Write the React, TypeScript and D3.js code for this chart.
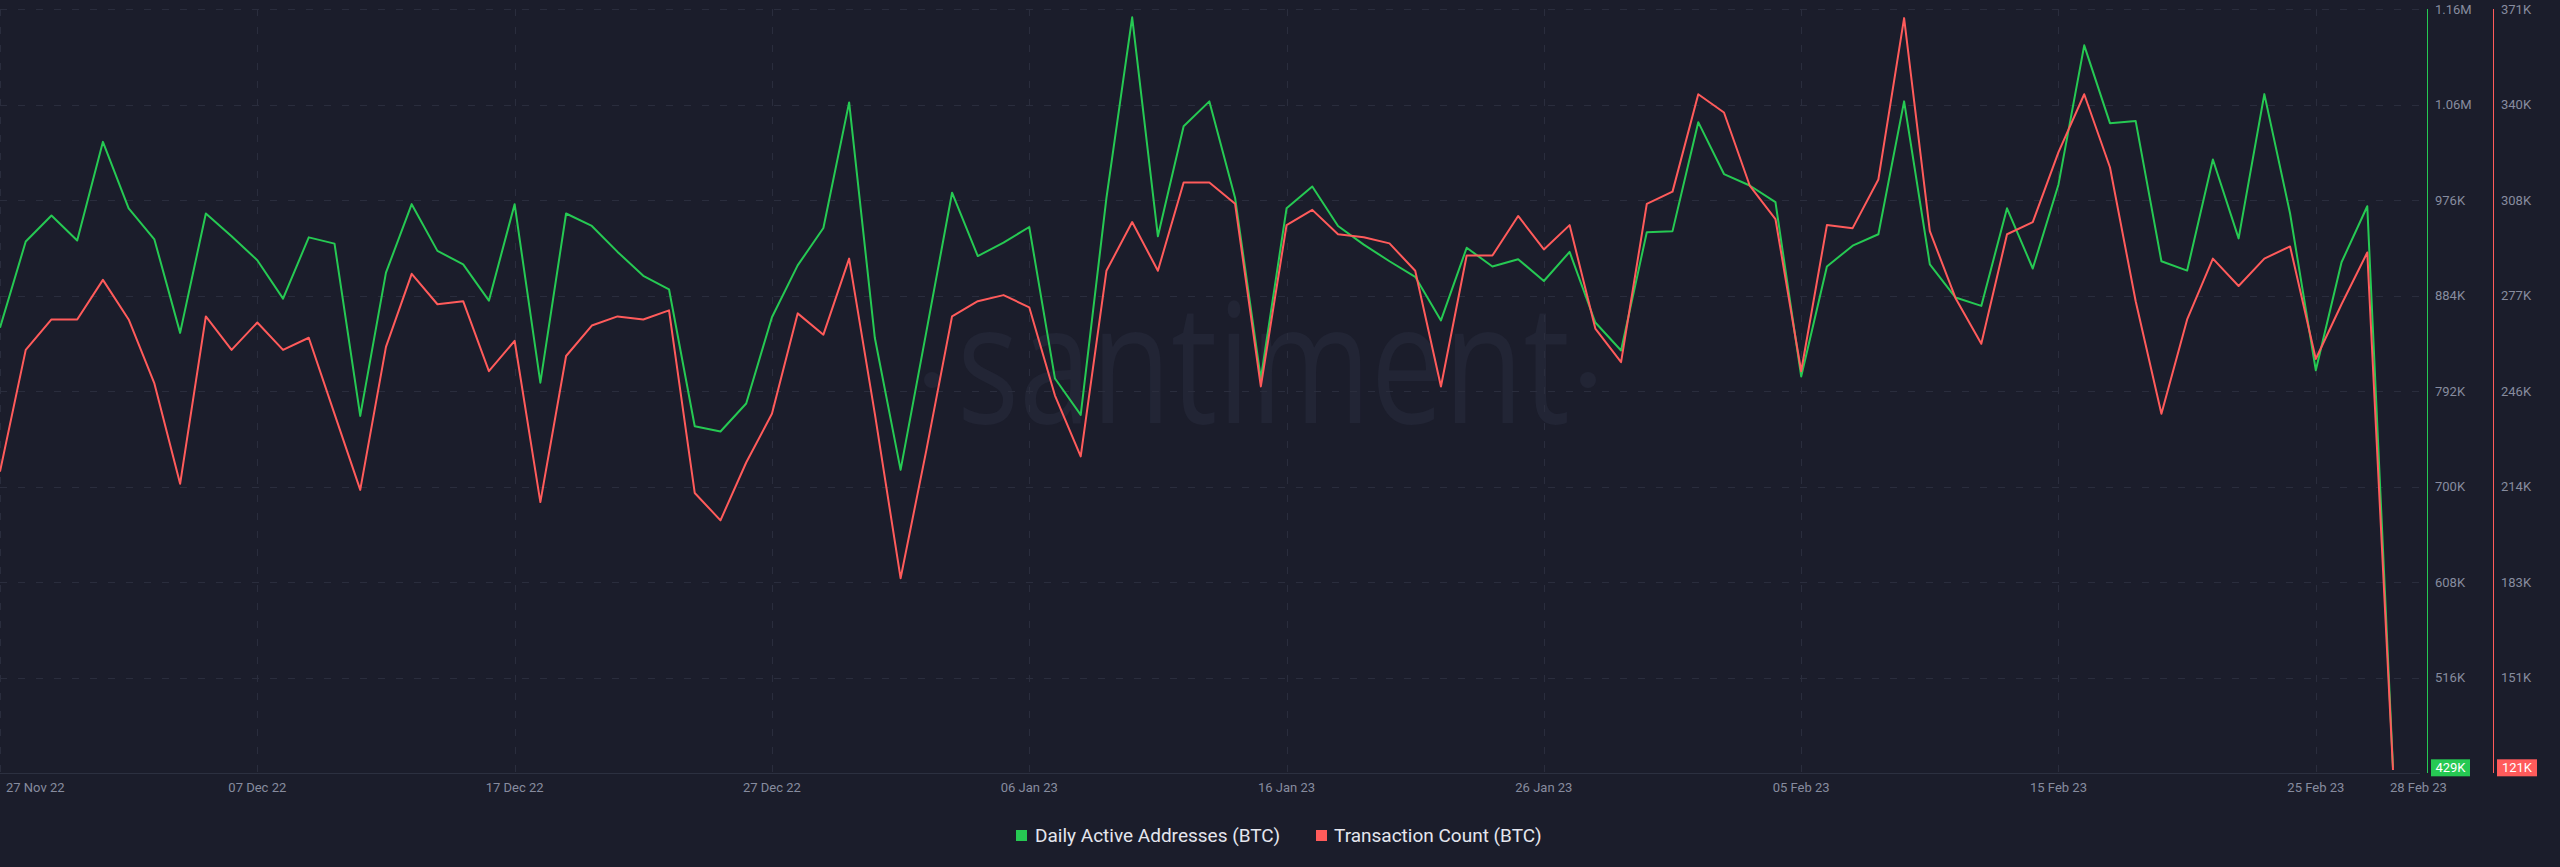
import { useMemo } from 'react'
import { line, scaleLinear, scaleUtc, utcDay, utcFormat } from 'd3'

// Daily Active Addresses (BTC), thousands, 27 Nov 22 .. 28 Feb 23
const activeAddresses = [
  853, 936, 961, 937, 1032, 968, 938, 848, 963, 941,
  918, 881, 940, 934, 768, 906, 972, 927, 914, 879,
  972, 800, 963, 951, 926, 903, 890, 758, 753, 780,
  863, 913, 949, 1070, 843, 716, 849, 983, 922, 935,
  950, 804, 769, 978, 1152, 941, 1047, 1071, 978, 804,
  968, 989, 951, 933, 917, 902, 860, 930, 912, 919,
  898, 926, 858, 831, 945, 946, 1051, 1001, 990, 974,
  806, 912, 932, 943, 1071, 914, 882, 874, 968, 910,
  991, 1125, 1050, 1052, 917, 908, 1015, 939, 1078, 963,
  812, 916, 970, 429,
]

// Transaction Count (BTC), thousands
const transactionCount = [
  219, 259, 269, 269, 282, 269, 248, 215, 270, 259,
  268, 259, 263, 238, 213, 260, 284, 274, 275, 252,
  262, 209, 257, 267, 270, 269, 272, 212, 203, 222,
  238, 271, 264, 289, 238, 184, 226, 270, 275, 277,
  273, 244, 224, 285, 301, 285, 314, 314, 307, 247,
  300, 305, 297, 296, 294, 285, 247, 290, 290, 303,
  292, 300, 266, 255, 307, 311, 343, 337, 313, 302,
  252, 300, 299, 315, 368, 298, 276, 261, 297, 301,
  324, 343, 319, 275, 238, 269, 289, 280, 289, 293,
  256, 274, 291, 121,
]

const startDay = new Date(Date.UTC(2022, 10, 27))
const endDay = new Date(Date.UTC(2023, 1, 28))

const xTickDates = [
  '2022-11-27', '2022-12-07', '2022-12-17', '2022-12-27', '2023-01-06',
  '2023-01-16', '2023-01-26', '2023-02-05', '2023-02-15', '2023-02-25',
]
const lastTickDate = '2023-02-28'

const greenTickLabels = ['516K', '608K', '700K', '792K', '884K', '976K', '1.06M', '1.16M']
const redTickLabels = ['151K', '183K', '214K', '246K', '277K', '308K', '340K', '371K']
const greenDomain = [424, 1160]
const redDomain = [120, 371]

const legendItems = ['Daily Active Addresses (BTC)', 'Transaction Count (BTC)']

const WIDTH = 2560
const HEIGHT = 867
const BG = '#1b1d2b'
const GREEN = '#26c953'
const RED = '#ff5b5b'
const GRID = '#2a2d3d'
const TICK_TEXT = '#878c9f'
const FONT = 'Roboto, "Liberation Sans", Arial, sans-serif'

export default function App() {
  const top = 9
  const bottom = 773
  const plotRight = 2393
  const gridRight = 2420
  const greenAxisX = 2427
  const redAxisX = 2493

  const dates = useMemo(() => utcDay.range(startDay, utcDay.offset(endDay, 1)), [])

  const x = scaleUtc().domain([startDay, endDay]).range([0, plotRight])
  const yGreen = scaleLinear().domain(greenDomain).range([bottom, top])
  const yRed = scaleLinear().domain(redDomain).range([bottom, top])

  const greenStep = (greenDomain[1] - greenDomain[0]) / greenTickLabels.length
  const redStep = (redDomain[1] - redDomain[0]) / redTickLabels.length
  const greenTicks = greenTickLabels.map((_, i) => greenDomain[0] + greenStep * (i + 1))
  const redTicks = redTickLabels.map((_, i) => redDomain[0] + redStep * (i + 1))

  const greenPath = line<number>()
    .x((_, i) => x(dates[i]))
    .y(d => yGreen(d))(activeAddresses)
  const redPath = line<number>()
    .x((_, i) => x(dates[i]))
    .y(d => yRed(d))(transactionCount)

  const fmt = utcFormat('%d %b %y')
  const parse = (s: string) => new Date(s + 'T00:00:00Z')

  const lastGreen = activeAddresses[activeAddresses.length - 1]
  const lastRed = transactionCount[transactionCount.length - 1]
  const badgeY = Math.min(yGreen(lastGreen), yRed(lastRed))

  return (
    <div style={{ position: 'absolute', left: 0, top: 0 }}>
      <svg width={WIDTH} height={HEIGHT} style={{ display: 'block', fontFamily: FONT }}>
        <rect width={WIDTH} height={HEIGHT} fill={BG} />

        {/* watermark */}
        <g fill="#222535">
          <circle cx={932} cy={380} r={8} />
          <text
            x={957}
            y={423}
            fontSize={166}
            fontFamily='"Open Sans", sans-serif'
            textLength={613}
            lengthAdjust="spacingAndGlyphs"
          >
            santiment
          </text>
          <circle cx={1588} cy={380} r={8} />
        </g>

        {/* grid */}
        {greenTicks.map((t, i) => (
          <line
            key={'h' + i}
            x1={0}
            x2={gridRight}
            y1={Math.round(yGreen(t)) + 0.5}
            y2={Math.round(yGreen(t)) + 0.5}
            stroke={GRID}
            strokeDasharray="7 11"
          />
        ))}
        {xTickDates.map(d => (
          <line
            key={'v' + d}
            x1={Math.round(x(parse(d))) + 0.5}
            x2={Math.round(x(parse(d))) + 0.5}
            y1={top}
            y2={bottom}
            stroke={GRID}
            strokeDasharray="7 11"
          />
        ))}
        <line x1={0} x2={gridRight} y1={bottom + 0.5} y2={bottom + 0.5} stroke="#2c3040" />

        {/* x axis labels */}
        {xTickDates.map((d, i) => (
          <text
            key={'xl' + d}
            x={i === 0 ? 6 : x(parse(d))}
            y={792}
            fontSize={13}
            fill={TICK_TEXT}
            textAnchor={i === 0 ? 'start' : 'middle'}
          >
            {fmt(parse(d))}
          </text>
        ))}
        <text x={x(parse(lastTickDate)) - 3} y={792} fontSize={13} fill={TICK_TEXT}>
          {fmt(parse(lastTickDate))}
        </text>

        {/* series */}
        <path d={greenPath ?? ''} fill="none" stroke={GREEN} strokeWidth={2} strokeLinejoin="round" />
        <path d={redPath ?? ''} fill="none" stroke={RED} strokeWidth={2} strokeLinejoin="round" />

        {/* right axes */}
        <line x1={greenAxisX + 0.5} x2={greenAxisX + 0.5} y1={top} y2={bottom} stroke={GREEN} />
        <line x1={redAxisX + 0.5} x2={redAxisX + 0.5} y1={top} y2={bottom} stroke={RED} />
        {greenTicks.map((t, i) => (
          <text
            key={'gt' + i}
            x={greenAxisX + 8}
            y={yGreen(t)}
            dy="0.35em"
            fontSize={13}
            fill={TICK_TEXT}
          >
            {greenTickLabels[i]}
          </text>
        ))}
        {redTicks.map((t, i) => (
          <text
            key={'rt' + i}
            x={redAxisX + 8}
            y={yRed(t)}
            dy="0.35em"
            fontSize={13}
            fill={TICK_TEXT}
          >
            {redTickLabels[i]}
          </text>
        ))}

        {/* last value badges */}
        <rect x={greenAxisX + 4} y={badgeY - 8.5} width={39} height={17} fill={GREEN} />
        <text
          x={greenAxisX + 23.5}
          y={badgeY}
          dy="0.35em"
          fontSize={13}
          fill="#ffffff"
          textAnchor="middle"
        >
          {Math.round(lastGreen) + 'K'}
        </text>
        <rect x={redAxisX + 4} y={badgeY - 8.5} width={40} height={17} fill={RED} />
        <text
          x={redAxisX + 24}
          y={badgeY}
          dy="0.35em"
          fontSize={13}
          fill="#ffffff"
          textAnchor="middle"
        >
          {Math.round(lastRed) + 'K'}
        </text>

        {/* legend */}
        <rect x={1016} y={830} width={11} height={11} fill={GREEN} />
        <text x={1035} y={842} fontSize={19} fill="#e4e6ee">
          {legendItems[0]}
        </text>
        <rect x={1316} y={830} width={11} height={11} fill={RED} />
        <text x={1334} y={842} fontSize={19} fill="#e4e6ee">
          {legendItems[1]}
        </text>
      </svg>
    </div>
  )
}
